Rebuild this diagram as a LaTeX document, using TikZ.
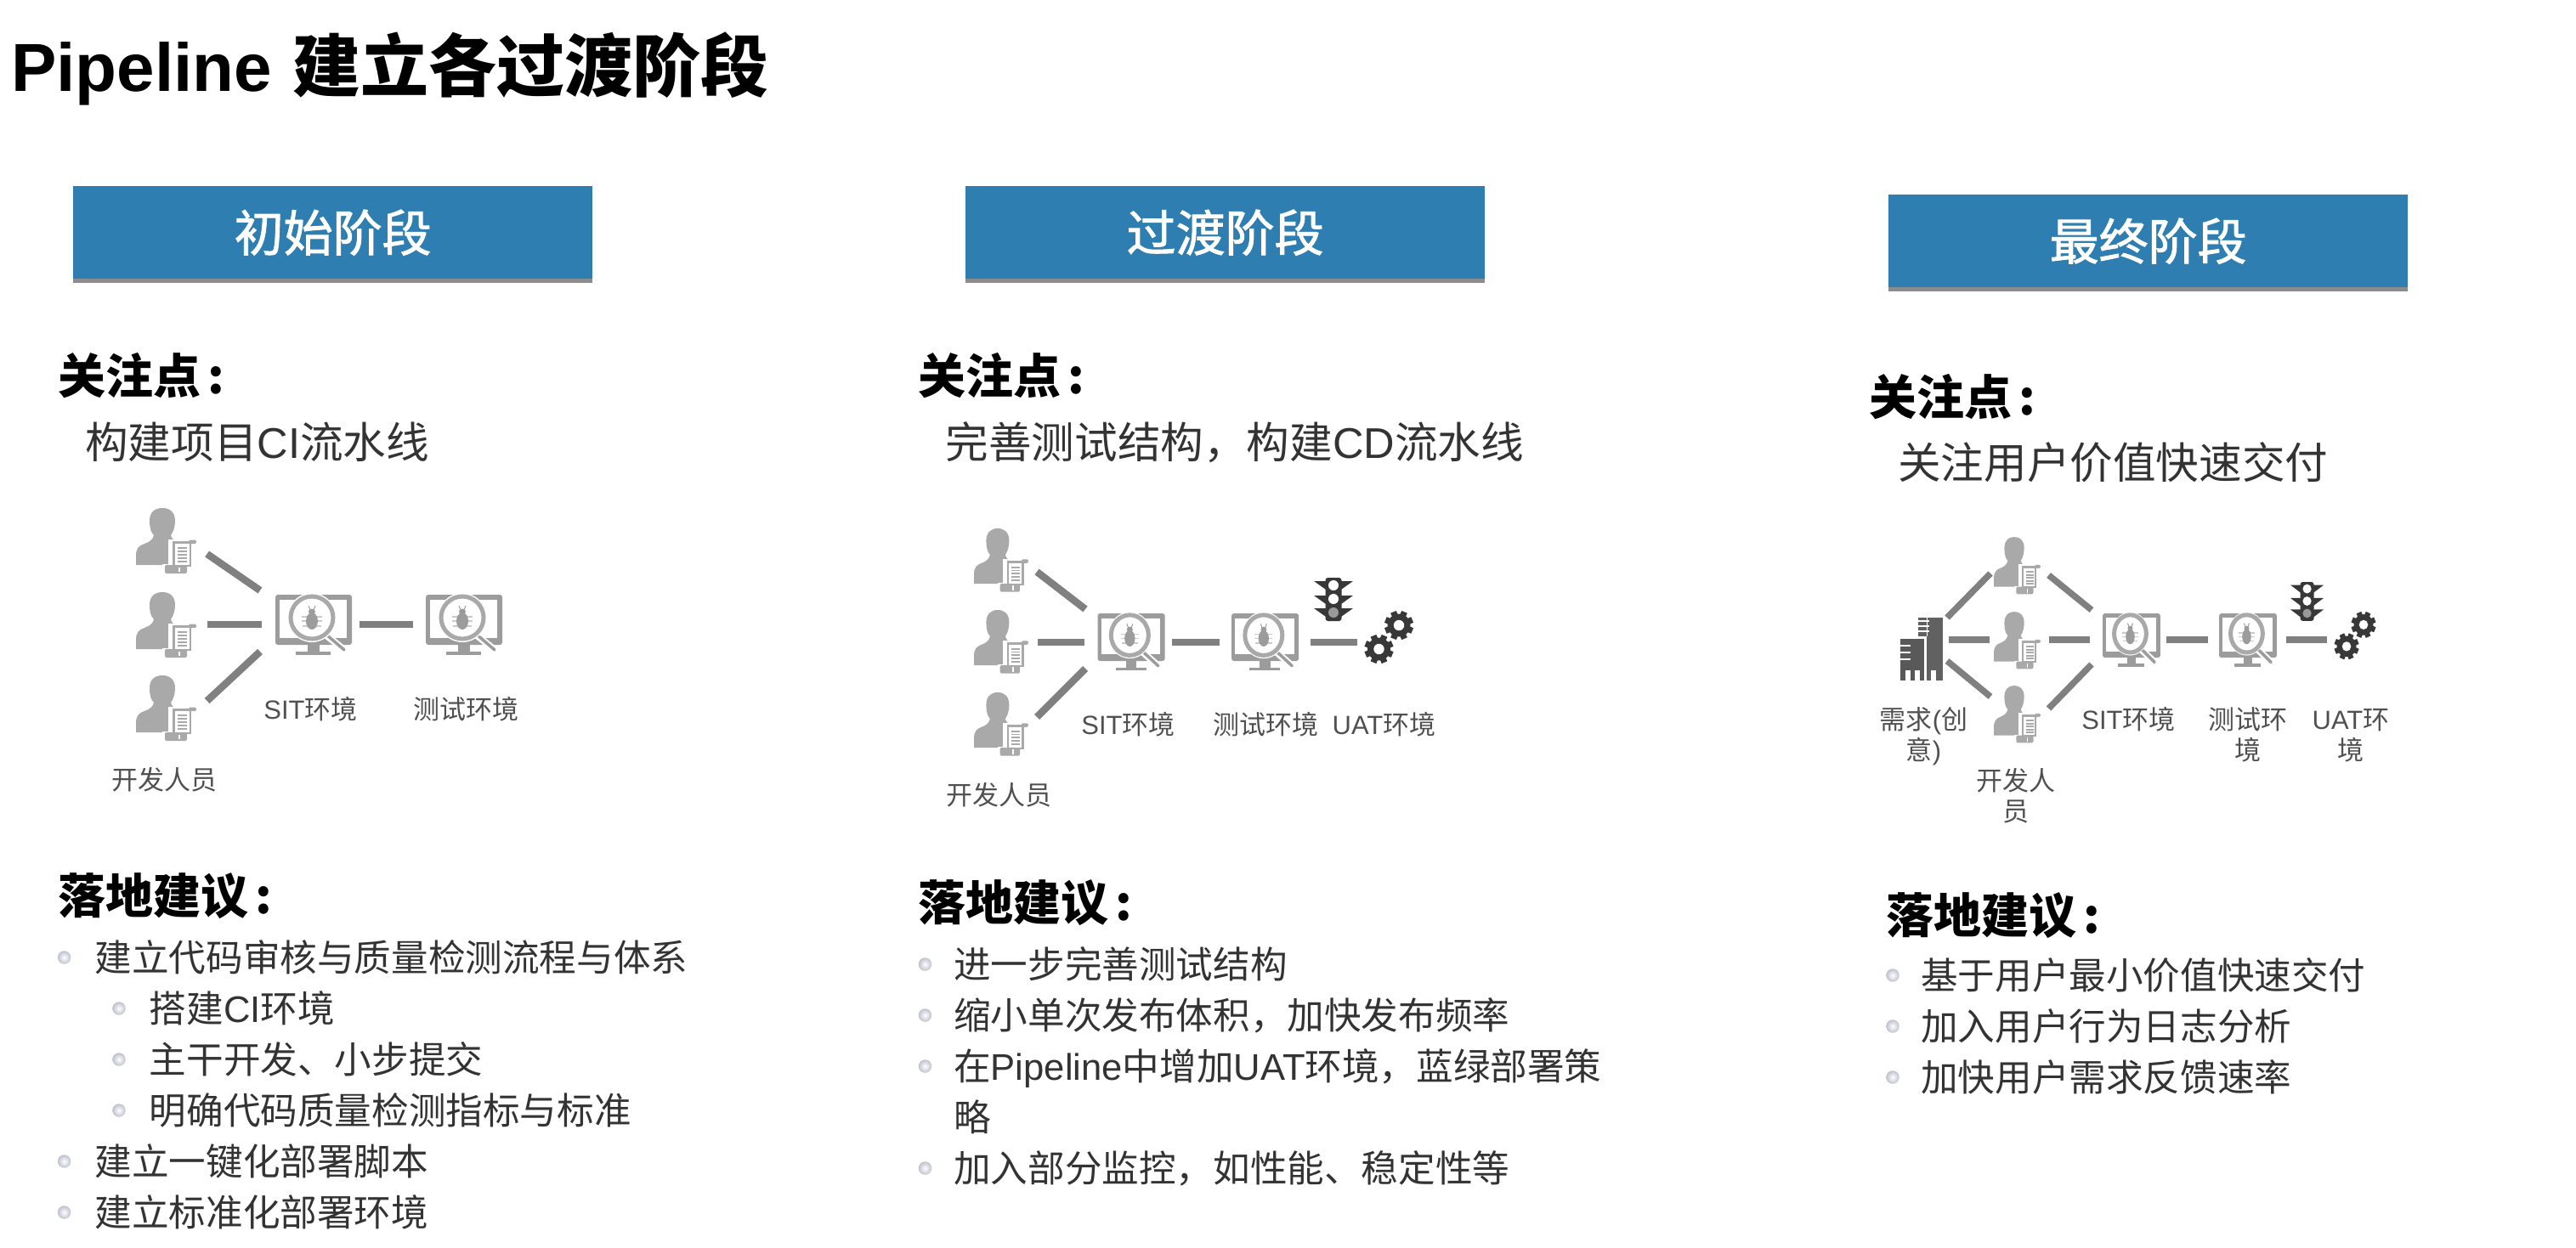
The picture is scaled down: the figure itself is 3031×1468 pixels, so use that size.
\documentclass[tikz,border=0pt]{standalone}
\usepackage{fontspec}
\setmainfont{Noto Sans CJK SC}
\newfontfamily\lat{Liberation Sans}
\newfontfamily\boxfont[FakeBold=1.6]{Noto Sans CJK SC}
\usetikzlibrary{shadows}
\definecolor{boxblue}{HTML}{2E7EB1}
\definecolor{icong}{HTML}{A9A9A9}
\definecolor{mong}{HTML}{9C9C9C}
\definecolor{linkg}{HTML}{808080}
\definecolor{darkg}{HTML}{383838}
\definecolor{bodytxt}{HTML}{333333}
\definecolor{labtxt}{HTML}{505050}
\definecolor{dotg}{HTML}{BFC2CE}
\tikzset{
  stagebox/.style={anchor=north west,fill=boxblue,text=white,inner sep=0pt,align=center,
     font=\boxfont\fontsize{58}{60}\selectfont,minimum width=#1,minimum height=109pt,
     drop shadow={opacity=.45,fill=black,shadow xshift=0pt,shadow yshift=-5pt}},
  maintitle/.style={anchor=base west,inner sep=0pt,text=black,font=\fontsize{80}{82}\selectfont\bfseries},
  headtxt/.style={anchor=base west,inner sep=0pt,text=black,font=\fontsize{56}{58}\selectfont\bfseries},
  focustxt/.style={anchor=base west,inner sep=0pt,text=bodytxt,font=\fontsize{50.6}{52}\selectfont},
  itemtxt/.style={anchor=base west,inner sep=0pt,text=bodytxt,font=\fontsize{43.6}{46}\selectfont},
  iconlab/.style={anchor=base,inner sep=0pt,text=labtxt,align=center,font=\fontsize{31}{36}\selectfont},
  bulletdot/.style={circle,inner sep=0pt,minimum size=15.5pt,shade,inner color=white,outer color=dotg},
  link/.style={draw=linkg,line width=8.5pt},
  linkb/.style={draw=linkg,line width=7.5pt},
  personicon/.pic={
    \fill[icong] (0,67) -- (0,56) .. controls (0,47) and (4,44) .. (10,42)
      .. controls (16,40) and (20,37) .. (21,32) .. controls (17,28) and (16,22) .. (16,15)
      .. controls (16,5) and (22,0) .. (31,0) .. controls (40,0) and (46,5) .. (46,15)
      .. controls (46,22) and (44,28) .. (41,32) .. controls (42,37) and (46,38) .. (50,40)
      -- (50,67) -- cycle;
    \fill[white] (38,37) rectangle (72,78);
    \fill[white] (31,66) rectangle (40,78);
    \fill[icong] (43,39) rectangle (65,69);
    \fill[white] (45.5,42) rectangle (62.5,66.5);
    \fill[icong,rounded corners=1.5pt] (62,37.5) rectangle (71,42);
    \foreach \ly in {46,50,54,58,62} {\fill[icong] (48.5,\ly) rectangle (60,\ly+2);}
    \fill[icong,rounded corners=2pt] (34,67) rectangle (60,77);
    \fill[white] (50,69.5) rectangle (52,75);
  },
  monitoricon/.pic={
    \fill[mong,rounded corners=3pt] (0,0) rectangle (90,59);
    \fill[white] (5,6) rectangle (84,51);
    \fill[mong] (38,59) rectangle (52,67);
    \fill[mong] (24,67) rectangle (65,71);
    \draw[white,line width=8pt] (59,47) -- (81,65);
    \draw[mong,line width=3.5pt,line cap=round] (60,47) -- (81,65);
    \fill[white] (43,27) circle[radius=29];
    \draw[icong,line width=5pt] (43,27) circle[radius=25];
    \draw[icong!60,line width=1.4pt] (31,26) -- (55,26) (31,31) -- (55,31) (32,37) -- (54,37);
    \fill[mong] (43,31) ellipse[x radius=7,y radius=10];
    \fill[mong] (43,20) ellipse[x radius=4,y radius=3.5];
    \draw[mong,line width=1pt] (41,18) -- (39,13) (45,18) -- (47,13);
  },
  lighticon/.pic={
    \foreach \wy in {4,21,36} {
      \fill[darkg] (0,\wy) -- (14,\wy) -- (14,\wy+10) -- cycle;
      \fill[darkg] (46,\wy) -- (32,\wy) -- (32,\wy+10) -- cycle;
    }
    \fill[darkg,rounded corners=3pt] (13.5,0) rectangle (32.5,51);
    \fill[white] (23,9) circle[radius=6];
    \fill[white] (23,25) circle[radius=6];
    \fill[gray!80] (23,41) circle[radius=6];
  },
  gearicon/.pic={
    \foreach \gx/\gy in {40/18,16.5/46} {
      \begin{scope}[shift={(\gx,\gy)}]
        \foreach \a in {0,45,...,315} {\fill[darkg,rotate=\a+22.5] (-3.6,0) rectangle (3.6,17);}
        \fill[darkg] (0,0) circle[radius=13.5];
        \fill[white] (0,0) circle[radius=6.2];
      \end{scope}
    }
  },
  buildingicon/.pic={
    \fill[black!62] (21,0) rectangle (50,74);
    \fill[white] (31,0) rectangle (32,22);
    \foreach \wy in {3,9,15} {\fill[white] (21,\wy) rectangle (34,\wy+2);}
    \fill[white] (0,22) rectangle (31,74);
    \fill[black!65] (0,25) rectangle (28,74);
    \foreach \wy in {32,40,48} {\fill[white] (0,\wy) rectangle (12,\wy+2);}
    \fill[white] (6,62) rectangle (12,74);
    \fill[white] (17,62) rectangle (23,74);
    \fill[white] (36,62) rectangle (42,74);
  },
}
\begin{document}
\begin{tikzpicture}[x=1pt,y=-1pt]
\useasboundingbox (0,0) rectangle (3031,1468);

\node[maintitle] (title) at (13,107) {{\lat Pipeline}\kern6pt{} 建立各过渡阶段};

%% ---------- column 1 ----------
\node[stagebox=611pt] (box1) at (86,219) {初始阶段};
\node[headtxt] (h1a) at (68,463) {关注点\kern8pt:};
\node[focustxt] (f1) at (100,539) {构建项目{\lat CI}流水线};

\coordinate (c1p1) at (160,598);
\coordinate (c1p2) at (160,697);
\coordinate (c1p3) at (160,795);
\coordinate (c1m1) at (324,700);
\coordinate (c1m2) at (501,700);
\pic at (c1p1) {personicon};
\pic at (c1p2) {personicon};
\pic at (c1p3) {personicon};
\pic at (c1m1) {monitoricon};
\pic at (c1m2) {monitoricon};
\coordinate (c1a1) at (243.6,652); \coordinate (c1b1) at (306,695);
\coordinate (c1a2) at (243.6,735); \coordinate (c1b2) at (307.5,735);
\coordinate (c1a3) at (243.6,825); \coordinate (c1b3) at (306,767);
\coordinate (c1a4) at (423,735);   \coordinate (c1b4) at (486,735);
\draw[link] (c1a1) -- (c1b1);
\draw[link] (c1a2) -- (c1b2);
\draw[link] (c1a3) -- (c1b3);
\draw[link] (c1a4) -- (c1b4);
\node[iconlab] (l1a) at (365.5,846) {{\lat SIT}环境};
\node[iconlab] (l1b) at (548,846) {测试环境};
\node[iconlab] (l1c) at (193,929) {开发人员};

\node[headtxt] (h1b) at (68,1075) {落地建议\kern8pt:};
\node[bulletdot] (d11) at (75.6,1127) {};
\node[itemtxt] (t11) at (111.5,1143) {建立代码审核与质量检测流程与体系};
\node[bulletdot] (d12) at (140,1187) {};
\node[itemtxt] (t12) at (175.6,1203) {搭建{\lat CI}环境};
\node[bulletdot] (d13) at (140,1247) {};
\node[itemtxt] (t13) at (175.6,1263) {主干开发、小步提交};
\node[bulletdot] (d14) at (140,1307) {};
\node[itemtxt] (t14) at (175.6,1323) {明确代码质量检测指标与标准};
\node[bulletdot] (d15) at (75.6,1367) {};
\node[itemtxt] (t15) at (111.5,1383) {建立一键化部署脚本};
\node[bulletdot] (d16) at (75.6,1427) {};
\node[itemtxt] (t16) at (111.5,1443) {建立标准化部署环境};

%% ---------- column 2 ----------
\node[stagebox=611pt] (box2) at (1136,219) {过渡阶段};
\node[headtxt] (h2a) at (1080,463) {关注点\kern8pt:};
\node[focustxt] (f2) at (1112.5,539) {完善测试结构，构建{\lat CD}流水线};

\coordinate (c2p1) at (1146,622);
\coordinate (c2p2) at (1146,718);
\coordinate (c2p3) at (1146,815);
\coordinate (c2m1) at (1291.5,722);
\coordinate (c2m2) at (1449,722);
\coordinate (c2t) at (1546,680);
\coordinate (c2g) at (1606,718);
\pic[xscale=.9,yscale=.97] at (c2p1) {personicon};
\pic[xscale=.9,yscale=.97] at (c2p2) {personicon};
\pic[xscale=.9,yscale=.97] at (c2p3) {personicon};
\pic[xscale=.88,yscale=.95] at (c2m1) {monitoricon};
\pic[xscale=.88,yscale=.95] at (c2m2) {monitoricon};
\pic at (c2t) {lighticon};
\pic at (c2g) {gearicon};
\coordinate (c2a1) at (1220,673);  \coordinate (c2b1) at (1277,717);
\coordinate (c2a2) at (1221,756);  \coordinate (c2b2) at (1276,756);
\coordinate (c2a3) at (1220,844);  \coordinate (c2b3) at (1277,787);
\coordinate (c2a4) at (1379,756);  \coordinate (c2b4) at (1435,756);
\coordinate (c2a5) at (1541.5,756);\coordinate (c2b5) at (1597,756);
\draw[link] (c2a1) -- (c2b1);
\draw[link] (c2a2) -- (c2b2);
\draw[link] (c2a3) -- (c2b3);
\draw[link] (c2a4) -- (c2b4);
\draw[link] (c2a5) -- (c2b5);
\node[iconlab] (l2a) at (1327.5,864) {{\lat SIT}环境};
\node[iconlab] (l2b) at (1489,864) {测试环境};
\node[iconlab] (l2c) at (1628.5,864) {{\lat UAT}环境};
\node[iconlab] (l2d) at (1175.5,947) {开发人员};

\node[headtxt] (h2b) at (1080,1083) {落地建议\kern8pt:};
\node[bulletdot] (d21) at (1088.5,1135) {};
\node[itemtxt] (t21) at (1122,1151) {进一步完善测试结构};
\node[bulletdot] (d22) at (1088.5,1195) {};
\node[itemtxt] (t22) at (1122,1211) {缩小单次发布体积，加快发布频率};
\node[bulletdot] (d23) at (1088.5,1255) {};
\node[itemtxt] (t23) at (1122,1271) {在{\lat Pipeline}中增加{\lat UAT}环境，蓝绿部署策};
\node[itemtxt] (t23b) at (1122,1331) {略};
\node[bulletdot] (d24) at (1088.5,1375) {};
\node[itemtxt] (t24) at (1122,1391) {加入部分监控，如性能、稳定性等};

%% ---------- column 3 ----------
\node[stagebox=611pt] (box3) at (2222,229) {最终阶段};
\node[headtxt] (h3a) at (2199,488) {关注点\kern8pt:};
\node[focustxt] (f3) at (2233,563) {关注用户价值快速交付};

\coordinate (c3p1) at (2346,632);
\coordinate (c3p2) at (2346,720);
\coordinate (c3p3) at (2346,807);
\coordinate (c3b) at (2236,727);
\coordinate (c3m1) at (2474,722);
\coordinate (c3m2) at (2611,722);
\coordinate (c3t) at (2695,685);
\coordinate (c3g) at (2747,719);
\pic[xscale=.775,yscale=.875] at (c3p1) {personicon};
\pic[xscale=.775,yscale=.875] at (c3p2) {personicon};
\pic[xscale=.775,yscale=.875] at (c3p3) {personicon};
\pic at (c3b) {buildingicon};
\pic[xscale=.755,yscale=.885] at (c3m1) {monitoricon};
\pic[xscale=.755,yscale=.885] at (c3m2) {monitoricon};
\pic[xscale=.85,yscale=.9] at (c3t) {lighticon};
\pic[xscale=.85,yscale=.91] at (c3g) {gearicon};
\coordinate (c3a1) at (2291,727);   \coordinate (c3b1) at (2342,675);
\coordinate (c3a2) at (2293,753);   \coordinate (c3b2) at (2341,753);
\coordinate (c3a3) at (2291,778);   \coordinate (c3b3) at (2342,820);
\coordinate (c3a4) at (2410.5,677); \coordinate (c3b4) at (2461,718);
\coordinate (c3a5) at (2411,753);   \coordinate (c3b5) at (2459,753);
\coordinate (c3a6) at (2410.5,834); \coordinate (c3b6) at (2461,782);
\coordinate (c3a7) at (2549,753);   \coordinate (c3b7) at (2597.5,753);
\coordinate (c3a8) at (2690,753);   \coordinate (c3b8) at (2738,753);
\draw[linkb] (c3a1) -- (c3b1);
\draw[linkb] (c3a2) -- (c3b2);
\draw[linkb] (c3a3) -- (c3b3);
\draw[linkb] (c3a4) -- (c3b4);
\draw[linkb] (c3a5) -- (c3b5);
\draw[linkb] (c3a6) -- (c3b6);
\draw[linkb] (c3a7) -- (c3b7);
\draw[linkb] (c3a8) -- (c3b8);
\node[iconlab] (l3a) at (2263.5,894) {需求{\lat (}创\\意{\lat )}};
\node[iconlab] (l3b) at (2504.5,858) {{\lat SIT}环境};
\node[iconlab] (l3c) at (2644.5,894) {测试环\\境};
\node[iconlab] (l3d) at (2766,894) {{\lat UAT}环\\境};
\node[iconlab] (l3e) at (2371.5,966) {开发人\\员};

\node[headtxt] (h3b) at (2219,1098) {落地建议\kern8pt:};
\node[bulletdot] (d31) at (2227,1148) {};
\node[itemtxt] (t31) at (2260,1164) {基于用户最小价值快速交付};
\node[bulletdot] (d32) at (2227,1208) {};
\node[itemtxt] (t32) at (2260,1224) {加入用户行为日志分析};
\node[bulletdot] (d33) at (2227,1268) {};
\node[itemtxt] (t33) at (2260,1284) {加快用户需求反馈速率};
\end{tikzpicture}
\end{document}
